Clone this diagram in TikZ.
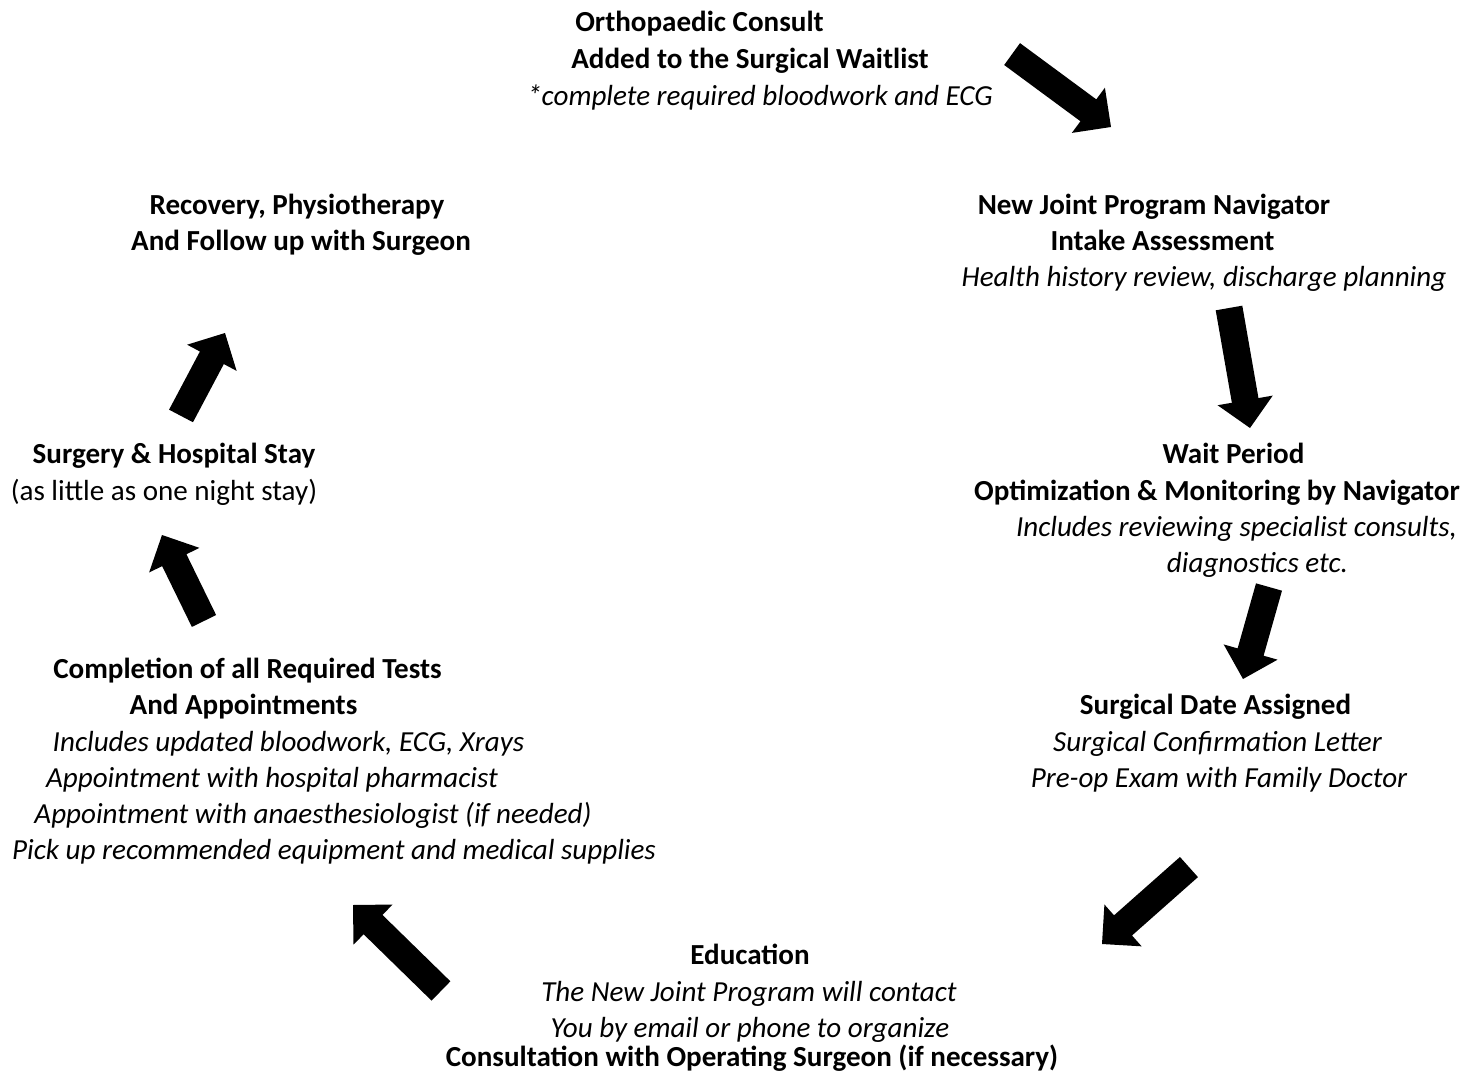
\documentclass[tikz,border=0pt]{standalone}
\usepackage{fontspec}
\setmainfont{Carlito}
\usetikzlibrary{calc}
\newcommand\tfont{\fontsize{21.8}{27}\selectfont}
\tikzset{
  txt/.style={anchor=base, inner sep=0pt, font=\tfont},
  bt/.style={anchor=base, inner sep=0pt, font=\tfont\bfseries},
  it/.style={anchor=base, inner sep=0pt, font=\tfont\itshape},
}
% block arrow from tail coordinate #1 to tip coordinate #2
\newcommand\blockarrow[2]{%
  \fill[black] let \p1=(#1), \p2=(#2),
    \n1={atan2(\y2-\y1,\x2-\x1)},
    \n2={veclen(\x2-\x1,\y2-\y1)-21pt}
  in (\p1) ++(\n1+90:10.125pt) -- ++(\n1:\n2) -- ++(\n1+90:10.875pt) -- (\p2)
     -- ++(\n1-135:29.698pt) -- ++(\n1+90:10.875pt) -- ++(\n1+180:\n2) -- cycle;}
\begin{document}
\begin{tikzpicture}[x=0.75pt,y=-0.75pt]
\useasboundingbox[fill=white] (0,0) rectangle (1479,1074);
% top block
\node[bt] (or1) at (699.5,32) {Orthopaedic Consult};
\node[bt] (or2) at (750,69) {Added to the Surgical Waitlist};
\node[it] (or3) at (760,106) {*complete required bloodwork and ECG};
% recovery
\node[bt] (re1) at (297,214) {Recovery, Physiotherapy};
\node[bt] (re2) at (301,250) {And Follow up with Surgeon};
% navigator
\node[bt] (na1) at (1154,214) {New Joint Program Navigator};
\node[bt] (na2) at (1162.5,250) {Intake Assessment};
\node[it] (na3) at (1204,286) {Health history review, discharge planning};
% surgery
\node[bt] (su1) at (174,463) {Surgery \& Hospital Stay};
\node[txt] (su2) at (164,500) {(as little as one night stay)};
% wait
\node[bt] (wa1) at (1233.5,463) {Wait Period};
\node[bt] (wa2) at (1217,500) {Optimization \& Monitoring by Navigator};
\node[it] (wa3) at (1236.5,536) {Includes reviewing specialist consults,};
\node[it] (wa4) at (1257.5,572) {diagnostics etc.};
% completion
\node[bt] (co1) at (247.5,678) {Completion of all Required Tests};
\node[bt] (co2) at (243.5,714) {And Appointments};
\node[it] (co3) at (288.5,751) {Includes updated bloodwork, ECG, Xrays};
\node[it] (co4) at (272,787) {Appointment with hospital pharmacist};
\node[it] (co5) at (313,823) {Appointment with anaesthesiologist (if needed)};
\node[it] (co6) at (334,859) {Pick up recommended equipment and medical supplies};
% surgical date
\node[bt] (sd1) at (1215.5,714) {Surgical Date Assigned};
\node[it] (sd2) at (1217.5,751) {Surgical Confirmation Letter};
\node[it] (sd3) at (1219,787) {Pre-op Exam with Family Doctor};
% education
\node[bt] (ed1) at (750,964) {Education};
\node[it] (ed2) at (749,1001) {The New Joint Program will contact};
\node[it] (ed3) at (750,1037) {You by email or phone to organize};
\node[bt] (ed4) at (752,1066) {Consultation with Operating Surgeon (if necessary)};
% arrows
\coordinate (a1s) at (1012,54);  \coordinate (a1e) at (1111,127);
\coordinate (a2s) at (1229,308); \coordinate (a2e) at (1250,428);
\coordinate (a3s) at (1269,587); \coordinate (a3e) at (1243,679);
\coordinate (a4s) at (1189,867); \coordinate (a4e) at (1102,944);
\coordinate (a5s) at (441,991);  \coordinate (a5e) at (353,905);
\coordinate (a6s) at (204,621);  \coordinate (a6e) at (162,535);
\coordinate (a7s) at (181,416);  \coordinate (a7e) at (225,333);
\blockarrow{a1s}{a1e}
\blockarrow{a2s}{a2e}
\blockarrow{a3s}{a3e}
\blockarrow{a4s}{a4e}
\blockarrow{a5s}{a5e}
\blockarrow{a6s}{a6e}
\blockarrow{a7s}{a7e}
\end{tikzpicture}
\end{document}
